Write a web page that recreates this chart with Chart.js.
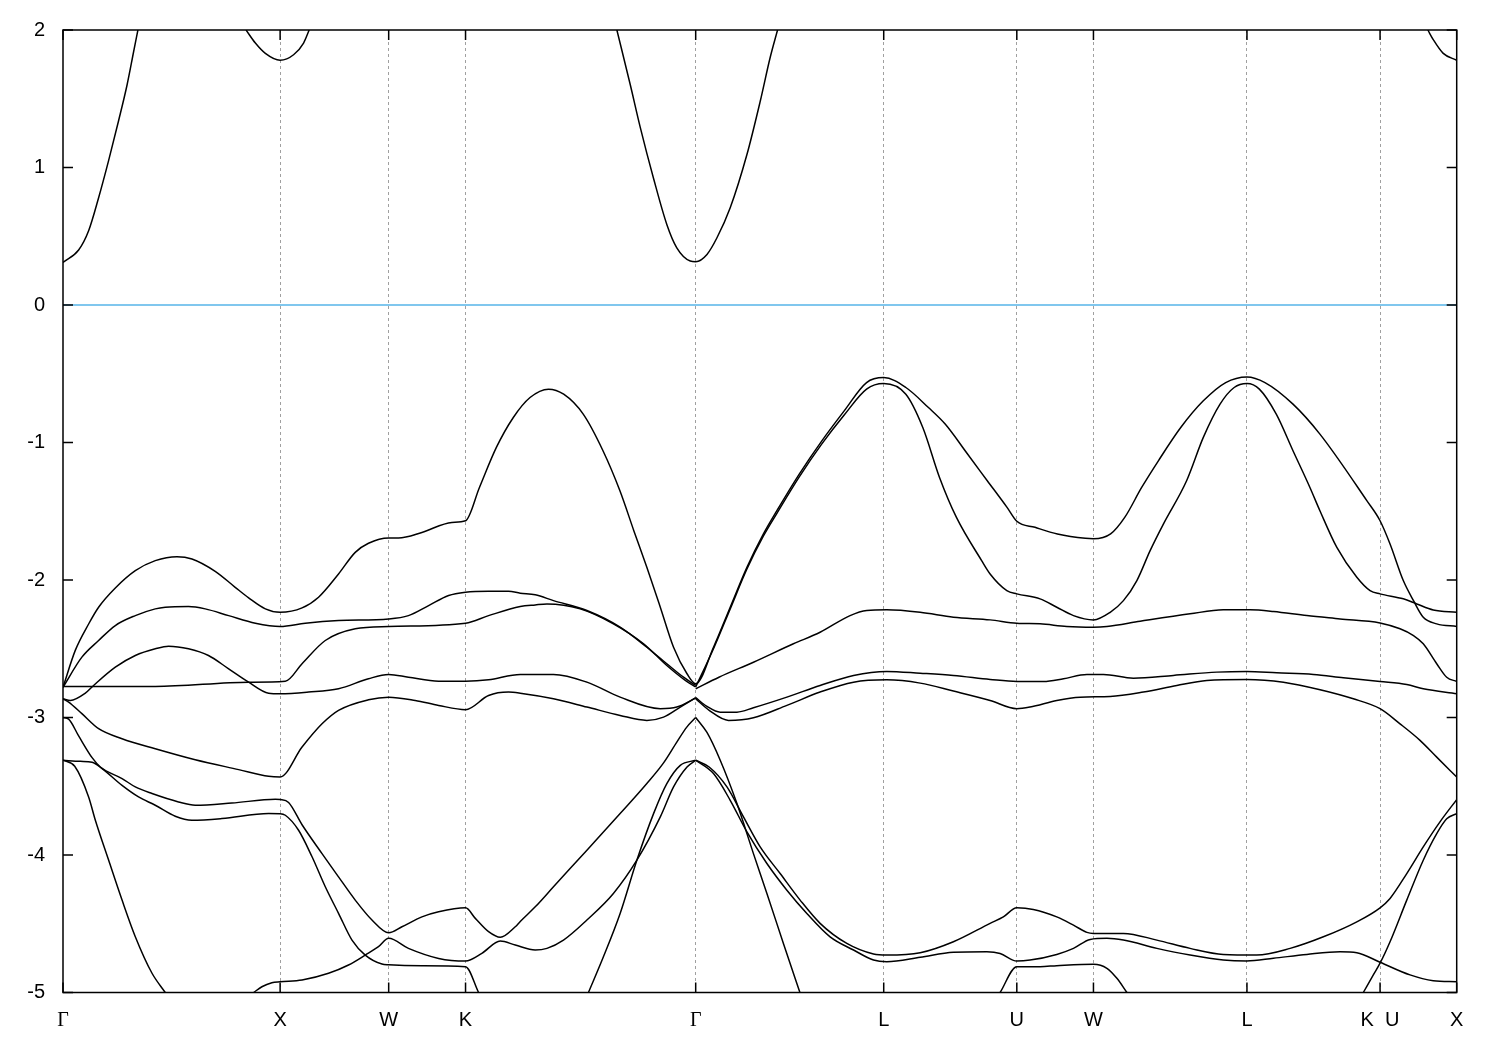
<!DOCTYPE html>
<html>
<head>
<meta charset="utf-8">
<title>Band structure</title>
<script src="https://cdn.jsdelivr.net/npm/chart.js@4.4.1/dist/chart.umd.min.js"></script>
<style>
  html, body { margin: 0; padding: 0; background: #fff; }
  #wrap { width: 1500px; height: 1050px; }
</style>
</head>
<body>
<div id="wrap"><canvas id="bands" width="1500" height="1050"></canvas></div>
<script>
// high-symmetry points along the path
const kTicks = [0, 1, 1.5, 1.854, 2.914, 3.78, 4.393, 4.746, 5.453, 6.066, 6.419];
const kLabels = ['Γ', 'X', 'W', 'K', 'Γ', 'L', 'U', 'W', 'L', 'K  U', 'X'];
const fermiLevel = 0;

// conduction band pieces that fall inside the window
const cbGammaX = [[0,0.31],[0.072,0.40],[0.118,0.54],[0.164,0.78],[0.210,1.05],[0.256,1.34],[0.295,1.60],[0.325,1.84],[0.345,2.0]];
const cbX1 = [[0.843,2.0],[0.886,1.905],[0.932,1.83],[1.0,1.78],[1.062,1.82],[1.108,1.905],[1.134,2.0]];
const cbGamma = [[2.551,2.0],[2.613,1.60],[2.659,1.29],[2.720,0.92],[2.781,0.586],[2.827,0.416],[2.889,0.32],[2.914,0.315],[2.966,0.368],[3.012,0.489],[3.073,0.707],[3.150,1.094],[3.211,1.48],[3.257,1.80],[3.291,2.0]];
const cbX2 = [[6.286,2.0],[6.311,1.93],[6.357,1.83],[6.419,1.78]];

// valence bands
const bandA = [[0,-2.78],[0.057,-2.51],[0.118,-2.32],[0.164,-2.198],[0.241,-2.058],[0.333,-1.932],[0.425,-1.859],[0.525,-1.83],[0.594,-1.847],[0.701,-1.937],[0.793,-2.053],[0.855,-2.13],[0.932,-2.21],[1.0,-2.235],
  [1.101,-2.203],[1.177,-2.125],[1.269,-1.956],[1.346,-1.799],[1.407,-1.733],[1.5,-1.694],[1.545,-1.694],[1.653,-1.654],[1.791,-1.581],[1.854,-1.569],
  [1.918,-1.327],[1.996,-1.036],[2.074,-0.818],[2.151,-0.673],[2.236,-0.612],[2.306,-0.649],[2.396,-0.794],[2.487,-1.06],[2.565,-1.351],[2.629,-1.641],[2.689,-1.908],[2.751,-2.198],[2.812,-2.489],[2.874,-2.682],[2.914,-2.755],
  [2.996,-2.489],[3.073,-2.198],[3.150,-1.908],[3.226,-1.665],[3.288,-1.496],[3.391,-1.23],[3.495,-0.988],[3.598,-0.77],[3.701,-0.564],[3.78,-0.528],
  [3.882,-0.60],[3.986,-0.746],[4.063,-0.866],[4.166,-1.084],[4.257,-1.278],[4.348,-1.472],[4.393,-1.573],
  [4.477,-1.617],[4.580,-1.665],[4.709,-1.697],[4.746,-1.70],[4.825,-1.665],
  [4.890,-1.545],[4.968,-1.327],[5.045,-1.133],[5.148,-0.891],[5.252,-0.697],[5.355,-0.564],[5.453,-0.523],
  [5.536,-0.564],[5.665,-0.721],[5.789,-0.939],[6.005,-1.423],[6.066,-1.569],
  [6.112,-1.738],[6.173,-2.004],[6.220,-2.15],[6.265,-2.271],[6.327,-2.319],[6.419,-2.338]];
const bandA2 = [[2.914,-2.778],[2.996,-2.50],[3.073,-2.21],[3.150,-1.92],[3.226,-1.68],[3.288,-1.515],[3.391,-1.25],[3.495,-1.01],[3.598,-0.80],[3.701,-0.612],[3.78,-0.571],
  [3.882,-0.649],[3.960,-0.891],[4.037,-1.254],[4.115,-1.545],[4.231,-1.859],[4.270,-1.956],[4.347,-2.077],[4.393,-2.101],
  [4.500,-2.137],[4.577,-2.198],[4.654,-2.259],[4.746,-2.29],
  [4.823,-2.235],[4.884,-2.15],[4.946,-2.004],[5.007,-1.786],[5.068,-1.593],[5.175,-1.278],[5.252,-0.963],[5.329,-0.721],[5.394,-0.60],[5.453,-0.571],
  [5.510,-0.612],[5.588,-0.794],[5.665,-1.06],[5.743,-1.327],[5.789,-1.496],[5.867,-1.763],[5.959,-1.98],[6.020,-2.077],[6.066,-2.101],
  [6.173,-2.137],[6.235,-2.174],[6.311,-2.218],[6.419,-2.235]];
const bandB = [[0,-2.78],[0.087,-2.561],[0.164,-2.44],[0.241,-2.331],[0.333,-2.259],[0.425,-2.21],[0.471,-2.198],[0.578,-2.193],[0.655,-2.21],[0.763,-2.259],[0.886,-2.314],[1.0,-2.338],
  [1.116,-2.314],[1.269,-2.295],[1.5,-2.283],[1.591,-2.259],[1.684,-2.186],[1.776,-2.113],[1.854,-2.089],
  [1.960,-2.082],[2.052,-2.082],[2.106,-2.096],[2.175,-2.108],[2.259,-2.15],[2.413,-2.222],[2.566,-2.343],[2.689,-2.489],[2.781,-2.609],[2.858,-2.707],[2.914,-2.767]];
const bandC = [[0,-2.774],[0.425,-2.774],[0.855,-2.743],[1.024,-2.736],
  [1.101,-2.609],[1.208,-2.44],[1.346,-2.355],[1.5,-2.338],[1.854,-2.314],
  [1.960,-2.259],[2.106,-2.193],[2.175,-2.181],[2.229,-2.174],[2.382,-2.21],[2.535,-2.319],[2.674,-2.464],[2.781,-2.622],[2.866,-2.73],[2.914,-2.778]];
const bandD = [[0,-2.864],[0.034,-2.876],[0.103,-2.823],[0.141,-2.767],[0.241,-2.634],[0.333,-2.549],[0.425,-2.50],[0.486,-2.481],[0.578,-2.50],[0.670,-2.549],[0.763,-2.646],[0.855,-2.743],[0.947,-2.823],[1.0,-2.827],
  [1.131,-2.815],[1.269,-2.791],[1.407,-2.718],[1.5,-2.687],[1.591,-2.707],[1.730,-2.736],[1.854,-2.736],
  [1.960,-2.726],[2.106,-2.687],[2.259,-2.687],[2.413,-2.743],[2.566,-2.852],[2.751,-2.936],[2.827,-2.924],[2.914,-2.859]];
const bandE = [[0,-2.864],[0.026,-2.888],[0.087,-2.972],[0.164,-3.081],[0.272,-3.154],[0.425,-3.227],[0.609,-3.307],[0.809,-3.379],[0.947,-3.428],[1.0,-3.433],
  [1.101,-3.215],[1.193,-3.046],[1.269,-2.948],[1.407,-2.871],[1.5,-2.852],[1.622,-2.876],[1.730,-2.912],[1.854,-2.943],
  [1.960,-2.84],[2.052,-2.815],[2.106,-2.823],[2.259,-2.864],[2.413,-2.924],[2.566,-2.985],[2.689,-3.021],[2.766,-2.997],[2.843,-2.924],[2.914,-2.856]];
const bandF = [[0,-3.0],[0.026,-3.012],[0.072,-3.134],[0.134,-3.292],[0.172,-3.36],[0.272,-3.444],[0.333,-3.505],[0.410,-3.553],[0.532,-3.614],[0.609,-3.638],[0.778,-3.622],[0.978,-3.595],[1.0,-3.597],
  [1.039,-3.618],[1.101,-3.78],[1.193,-3.99],[1.269,-4.159],[1.346,-4.328],[1.423,-4.473],[1.5,-4.566],[1.561,-4.522],[1.653,-4.45],[1.730,-4.413],[1.854,-4.384],
  [1.899,-4.461],[1.960,-4.558],[2.014,-4.599],[2.083,-4.522],[2.106,-4.483],[2.175,-4.377],[2.259,-4.231],[2.413,-3.965],[2.566,-3.699],[2.689,-3.48],[2.766,-3.33],[2.827,-3.179],[2.873,-3.07],[2.914,-3.0]];
const bandG = [[0,-3.311],[0.080,-3.319],[0.134,-3.326],[0.180,-3.372],[0.272,-3.494],[0.348,-3.578],[0.425,-3.638],[0.517,-3.718],[0.594,-3.747],[0.732,-3.735],[0.947,-3.699],[1.0,-3.70],
  [1.024,-3.711],[1.085,-3.82],[1.147,-4.013],[1.208,-4.231],[1.269,-4.424],[1.331,-4.619],[1.392,-4.728],[1.469,-4.793],[1.5,-4.798],[1.653,-4.805],[1.854,-4.812],[1.914,-5.0]];
const bandG2 = [[2.420,-5.0],[2.489,-4.74],[2.566,-4.425],[2.643,-4.038],[2.720,-3.699],[2.781,-3.481],[2.843,-3.348],[2.914,-3.311]];
const bandH = [[0,-3.311],[0.054,-3.355],[0.118,-3.578],[0.149,-3.747],[0.210,-4.037],[0.272,-4.328],[0.333,-4.594],[0.410,-4.86],[0.471,-5.0]];
const bandI = [[0.878,-5.0],[0.916,-4.958],[0.962,-4.929],[1.0,-4.922],[1.101,-4.909],[1.223,-4.86],[1.315,-4.80],[1.392,-4.728],[1.453,-4.667],[1.5,-4.606],
  [1.591,-4.679],[1.730,-4.752],[1.854,-4.771],[1.929,-4.715],[2.014,-4.626],[2.083,-4.655],[2.175,-4.691],[2.229,-4.679],[2.305,-4.619],[2.413,-4.473],[2.535,-4.28],[2.643,-4.038],[2.751,-3.723],[2.812,-3.505],[2.874,-3.36],[2.914,-3.311]];
const bandP = [[2.914,-2.791],[3.021,-2.707],[3.180,-2.598],[3.364,-2.464],[3.487,-2.38],[3.625,-2.259],[3.702,-2.222],[3.794,-2.217],[3.948,-2.235],[4.101,-2.271],[4.270,-2.29],[4.393,-2.314],[4.500,-2.319],[4.623,-2.338],[4.746,-2.343],[4.808,-2.338],[4.961,-2.30],[5.191,-2.246],[5.344,-2.217],[5.467,-2.217],[5.575,-2.229],[5.729,-2.259],[5.882,-2.283],[6.066,-2.312],[6.158,-2.355],[6.220,-2.404],[6.265,-2.464],[6.327,-2.609],[6.373,-2.707],[6.419,-2.738]];
const bandQ = [[2.914,-2.856],[2.966,-2.919],[3.027,-2.961],[3.104,-2.961],[3.180,-2.929],[3.334,-2.852],[3.487,-2.767],[3.641,-2.694],[3.794,-2.665],[3.948,-2.678],[4.101,-2.694],[4.270,-2.723],[4.393,-2.738],[4.516,-2.738],[4.608,-2.718],[4.716,-2.687],[4.792,-2.687],[4.930,-2.714],[5.114,-2.694],[5.314,-2.670],[5.452,-2.665],[5.590,-2.675],[5.759,-2.687],[5.897,-2.711],[6.066,-2.738],[6.189,-2.76],[6.265,-2.791],[6.419,-2.827]];
const bandR = [[2.914,-2.864],[2.976,-2.948],[3.065,-3.021],[3.180,-3.002],[3.334,-2.912],[3.487,-2.815],[3.641,-2.743],[3.794,-2.726],[3.948,-2.75],[4.101,-2.808],[4.270,-2.876],[4.393,-2.936],[4.454,-2.924],[4.577,-2.876],[4.685,-2.852],[4.823,-2.847],[4.976,-2.815],[5.130,-2.767],[5.268,-2.731],[5.452,-2.723],[5.621,-2.743],[5.790,-2.798],[5.943,-2.864],[6.066,-2.936],[6.158,-3.046],[6.250,-3.166],[6.327,-3.288],[6.419,-3.433]];
const bandS = [[2.914,-3.0],[2.966,-3.109],[3.027,-3.311],[3.104,-3.626],[3.180,-3.99],[3.242,-4.28],[3.318,-4.643],[3.394,-5.0]];
const bandT = [[2.914,-3.311],[2.976,-3.36],[3.058,-3.505],[3.134,-3.723],[3.211,-3.941],[3.303,-4.135],[3.395,-4.328],[3.487,-4.497],[3.610,-4.643],[3.733,-4.72],[3.794,-4.728],[3.948,-4.711],[4.101,-4.631],[4.270,-4.497],[4.331,-4.45],[4.393,-4.384],[4.469,-4.396],[4.577,-4.45],[4.654,-4.51],[4.716,-4.563],[4.746,-4.57],[4.884,-4.57],[5.038,-4.619],[5.191,-4.679],[5.344,-4.723],[5.498,-4.728],[5.652,-4.679],[5.805,-4.595],[5.959,-4.486],[6.066,-4.384],[6.112,-4.316],[6.189,-4.135],[6.265,-3.941],[6.342,-3.759],[6.419,-3.597]];
const bandU = [[2.914,-3.311],[2.996,-3.408],[3.073,-3.602],[3.150,-3.832],[3.242,-4.062],[3.334,-4.256],[3.426,-4.425],[3.533,-4.595],[3.641,-4.691],[3.733,-4.764],[3.794,-4.776],[3.948,-4.744],[4.101,-4.708],[4.255,-4.704],[4.316,-4.716],[4.393,-4.771],[4.454,-4.764],[4.577,-4.723],[4.654,-4.679],[4.731,-4.614],[4.808,-4.606],[4.884,-4.619],[5.038,-4.679],[5.191,-4.728],[5.344,-4.764],[5.452,-4.771],[5.575,-4.751],[5.729,-4.723],[5.882,-4.704],[5.959,-4.711],[6.066,-4.78],[6.204,-4.872],[6.311,-4.914],[6.419,-4.922]];
const bandV = [[5.989,-5.0],[6.035,-4.872],[6.066,-4.787],[6.112,-4.631],[6.189,-4.328],[6.265,-4.038],[6.327,-3.845],[6.373,-3.737],[6.419,-3.699]];
const bandW = [[4.316,-5.0],[4.393,-4.812],[4.500,-4.812],[4.577,-4.805],[4.746,-4.795],[4.808,-4.824],[4.854,-4.897],[4.900,-5.0]];

const allBands = [cbGammaX, cbX1, cbGamma, cbX2,
  bandA, bandA2, bandB, bandC, bandD, bandE, bandF, bandG, bandG2, bandH, bandI,
  bandP, bandQ, bandR, bandS, bandT, bandU, bandV, bandW];

const bandDatasets = allBands.map(b => ({
  data: b.map(p => ({ x: p[0], y: p[1] })),
  borderColor: '#000',
  borderWidth: 1.5,
  pointRadius: 0,
  fill: false,
  cubicInterpolationMode: 'monotone'
}));

const fermiDataset = {
  data: [{ x: kTicks[0], y: fermiLevel }, { x: kTicks[kTicks.length - 1], y: fermiLevel }],
  borderColor: '#56b4e9',
  borderWidth: 1.5,
  pointRadius: 0,
  fill: false
};

// gnuplot-like frame with inward ticks on all four sides
const frameTicks = {
  id: 'frameTicks',
  afterDraw(chart) {
    const { ctx, chartArea: a } = chart;
    const xs = chart.scales.x, ys = chart.scales.y;
    ctx.save();
    ctx.strokeStyle = '#000';
    ctx.lineWidth = 1.5;
    ctx.beginPath();
    ys.ticks.forEach(t => {
      const py = ys.getPixelForValue(t.value);
      ctx.moveTo(a.left, py); ctx.lineTo(a.left + 10, py);
      ctx.moveTo(a.right, py); ctx.lineTo(a.right - 10, py);
    });
    xs.ticks.forEach(t => {
      const px = xs.getPixelForValue(t.value);
      ctx.moveTo(px, a.bottom); ctx.lineTo(px, a.bottom - 10);
      ctx.moveTo(px, a.top); ctx.lineTo(px, a.top + 10);
    });
    ctx.stroke();
    ctx.strokeRect(a.left, a.top, a.right - a.left, a.bottom - a.top);
    ctx.restore();
  }
};

new Chart(document.getElementById('bands'), {
  type: 'line',
  data: { datasets: [fermiDataset, ...bandDatasets] },
  options: {
    responsive: false,
    devicePixelRatio: 1,
    animation: false,
    layout: { padding: { top: 28.5, right: 43.3, left: 0, bottom: 0 } },
    plugins: { legend: { display: false }, tooltip: { enabled: false } },
    scales: {
      x: {
        type: 'linear',
        min: kTicks[0],
        max: kTicks[kTicks.length - 1],
        afterBuildTicks: s => { s.ticks = kTicks.map(v => ({ value: v })); },
        afterFit: s => { s.height = 57.5; },
        grid: {
          drawTicks: false,
          color: c => (c.index === 0 || c.index === kTicks.length - 1) ? 'rgba(0,0,0,0)' : '#a0a0a0',
          lineWidth: 1
        },
        border: { display: false, dash: [3, 3] },
        ticks: {
          autoSkip: false,
          maxRotation: 0,
          padding: 16,
          color: '#000',
          font: c => ({ family: kLabels[c.index] === 'Γ' ? "'Liberation Serif', serif" : "'Liberation Sans', Arial, sans-serif", size: 20 }),
          callback: (v, i) => kLabels[i]
        }
      },
      y: {
        min: -5,
        max: 2,
        afterFit: s => { s.width = 63; },
        grid: { display: false, drawTicks: false },
        border: { display: false },
        ticks: {
          stepSize: 1,
          padding: 18,
          color: '#000',
          font: { family: "'Liberation Sans', Arial, sans-serif", size: 20 }
        }
      }
    }
  },
  plugins: [frameTicks]
});
</script>
</body>
</html>
